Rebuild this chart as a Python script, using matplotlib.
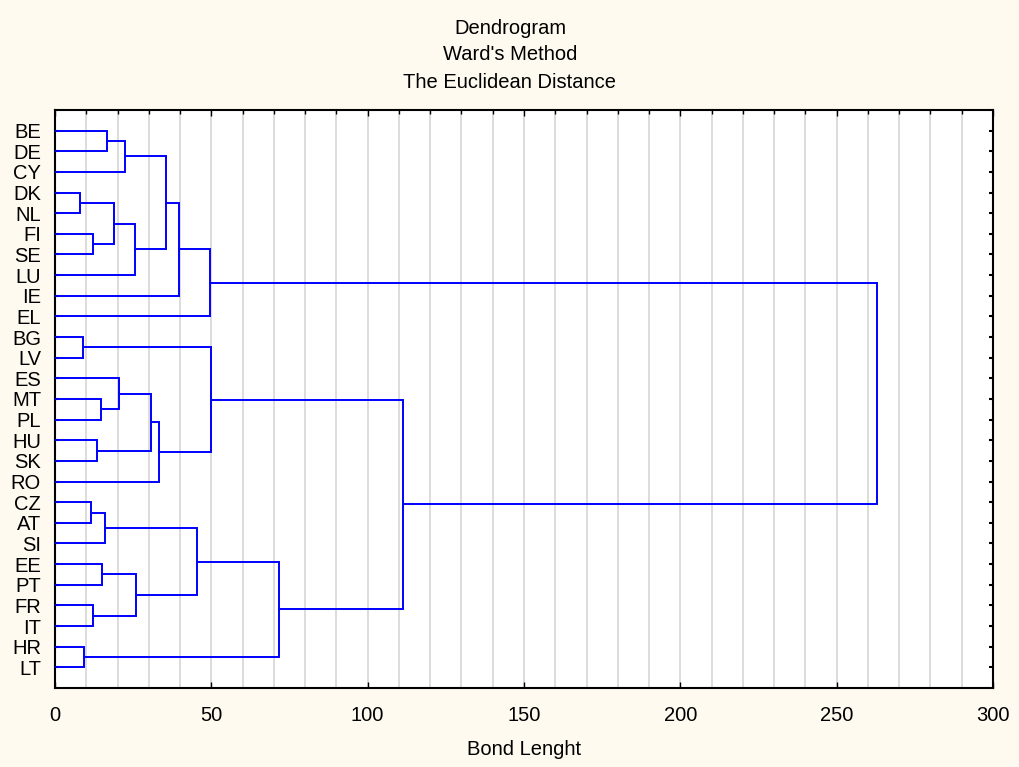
import matplotlib
matplotlib.use("Agg")
import matplotlib.pyplot as plt
import numpy as np

plt.rcParams['font.family'] = ['Liberation Sans', 'DejaVu Sans']

# --- leaves (top to bottom) ---
leaves = ["BE", "DE", "CY", "DK", "NL", "FI", "SE", "LU", "IE", "EL",
          "BG", "LV", "ES", "MT", "PL", "HU", "SK", "RO",
          "CZ", "AT", "SI", "EE", "PT", "FR", "IT", "HR", "LT"]

# --- merges: ids < 27 are leaves, merge k becomes cluster 27 + k ---
merge_left = [0, 27, 3, 5, 29, 31, 28, 33, 34,
              10, 13, 12, 15, 38, 40, 36,
              18, 43, 21, 23, 45, 44, 25, 48, 42, 35]
merge_right = [1, 2, 4, 6, 30, 7, 32, 8, 9,
               11, 14, 37, 16, 39, 17, 41,
               19, 20, 22, 24, 46, 47, 26, 49, 50, 51]
merge_height = [16.7, 22.3, 8.0, 12.2, 19.0, 25.5, 35.4, 39.6, 49.6,
                9.0, 14.7, 20.6, 13.4, 30.7, 33.4, 50.0,
                11.6, 16.0, 14.9, 12.3, 25.9, 45.5, 9.4, 71.7, 111.4, 263.0]

n = len(leaves)
pos = {i: float(i) for i in range(n)}
hgt = {i: 0.0 for i in range(n)}

bg = "#FFFAF0"
fs = 14.5
fig = plt.figure(figsize=(10.2, 7.67), dpi=100, facecolor=bg)
ax = fig.add_axes([0.0539, 0.103, 0.9196, 0.7536])
ax.set_facecolor("white")

for k, (a, b, h) in enumerate(zip(merge_left, merge_right, merge_height)):
    ya, yb = pos[a], pos[b]
    ax.plot([hgt[a], h, h, hgt[b]], [ya, ya, yb, yb], color="#0000FF", lw=1.4,
            solid_joinstyle="miter", zorder=3)
    pos[n + k] = (ya + yb) / 2
    hgt[n + k] = h

ax.set_xlim(0, 300)
ax.set_ylim(n, -1)
ax.set_xticks(np.arange(0, 301, 50))
ax.set_xticks(np.arange(0, 301, 10), minor=True)
ax.grid(True, axis="x", which="both", color="#D9D9D9", lw=1.3, zorder=0)
ax.set_yticks(range(n))
ax.set_yticklabels(leaves, fontsize=fs)

ax.tick_params(axis="x", which="major", direction="in", length=4, width=1,
               labelsize=fs, pad=13, top=True, bottom=True)
ax.tick_params(axis="x", which="minor", direction="in", length=3, width=1,
               top=True, bottom=False)
ax.tick_params(axis="y", direction="in", length=3, width=1.5, pad=10,
               left=True, right=True)
for s in ax.spines.values():
    s.set_linewidth(1.5)

ax.set_xlabel("Bond Lenght", fontsize=fs, labelpad=11)

fig.text(0.5, 1 - 28 / 767, "Dendrogram", ha="center", va="center", fontsize=fs)
fig.text(0.5, 1 - 55 / 767, "Ward's Method", ha="center", va="center", fontsize=fs)
fig.text(0.5, 1 - 83 / 767, "The Euclidean Distance", ha="center", va="center", fontsize=fs)

fig.savefig("out.png", dpi=100, facecolor=bg)
